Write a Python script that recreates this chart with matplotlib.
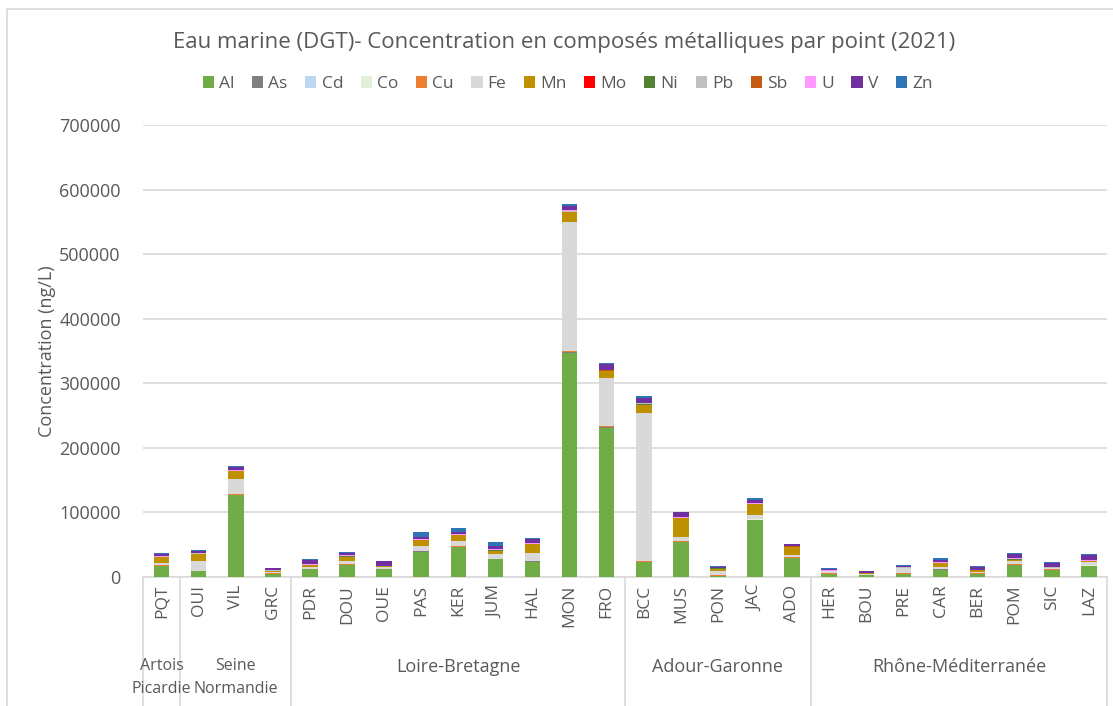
import matplotlib.pyplot as plt
from matplotlib.patches import Rectangle
import numpy as np

plt.rcParams['font.family'] = ['Open Sans', 'DejaVu Sans']

sites = ['PQT', 'OUI', 'VIL', 'GRC', 'PDR', 'DOU', 'OUE', 'PAS', 'KER', 'JUM', 'HAL', 'MON', 'FRO',
         'BCC', 'MUS', 'PON', 'JAC', 'ADO', 'HER', 'BOU', 'PRE', 'CAR', 'BER', 'POM', 'SIC', 'LAZ']
groups = ['Artois\nPicardie', 'Seine\nNormandie', 'Loire-Bretagne', 'Adour-Garonne', 'Rhône-Méditerranée']
group_sizes = [1, 3, 9, 5, 8]

metals = ['Al', 'As', 'Cd', 'Co', 'Cu', 'Fe', 'Mn', 'Mo', 'Ni', 'Pb', 'Sb', 'U', 'V', 'Zn']

Al = [16000, 8300, 126000, 4000, 11000, 17500, 11000, 38700, 45500, 26800, 23200, 347000, 230700,
      22100, 53100, 1000, 87800, 28400, 4100, 2000, 4100, 10800, 4100, 17500, 9800, 16500]
As = [500, 300, 500, 200, 300, 1000, 300, 500, 500, 500, 1000, 1000, 800,
      800, 500, 300, 500, 500, 300, 200, 300, 300, 300, 500, 300, 500]
Cd = [30, 40, 50, 20, 30, 30, 20, 40, 40, 30, 30, 60, 50,
      50, 40, 30, 40, 30, 20, 20, 30, 30, 20, 40, 30, 40]
Co = [60, 80, 120, 30, 50, 60, 40, 80, 90, 70, 80, 300, 200,
      250, 90, 50, 100, 60, 40, 30, 60, 50, 40, 70, 50, 70]
Cu = [800, 500, 1500, 800, 1000, 800, 500, 800, 1000, 500, 500, 1500, 1000,
      1500, 1000, 1500, 1000, 1000, 500, 500, 1000, 500, 800, 1500, 1000, 1500]
Fe = [3000, 15000, 23500, 2000, 3000, 5000, 2500, 7700, 7700, 7200, 11900, 200000, 75800,
      228200, 6700, 5500, 6700, 4100, 3100, 1500, 7200, 2600, 1500, 4800, 1800, 4000]
Mn = [10000, 11000, 11500, 2000, 2000, 6500, 1500, 8300, 9300, 5200, 13400, 15000, 9800,
      12400, 28900, 4000, 16000, 11900, 300, 1000, 1000, 6200, 3100, 1500, 500, 1000]
Mo = [10, 10, 10, 10, 10, 10, 10, 10, 10, 10, 10, 10, 10,
      10, 10, 10, 10, 10, 10, 10, 10, 10, 10, 10, 10, 10]
Ni = [300, 300, 500, 200, 300, 300, 200, 800, 500, 500, 300, 800, 600,
      1500, 500, 200, 500, 300, 200, 200, 200, 300, 200, 500, 300, 500]
Pb = [200, 200, 300, 100, 200, 200, 100, 300, 300, 300, 300, 500, 400,
      1500, 300, 200, 300, 200, 200, 100, 300, 200, 200, 800, 300, 500]
Sb = [80, 60, 100, 50, 60, 60, 50, 80, 80, 70, 70, 150, 120,
      120, 80, 60, 80, 70, 50, 50, 60, 60, 50, 80, 60, 80]
U = [1000, 800, 1000, 800, 1500, 1500, 800, 1500, 1000, 1000, 1000, 1500, 1000,
     800, 1000, 300, 1500, 800, 1000, 300, 800, 1000, 500, 1000, 1000, 1500]
V = [3000, 2500, 4500, 2500, 5500, 3500, 6500, 2500, 3600, 5200, 6700, 7200, 8800,
     7200, 7200, 2000, 4100, 2500, 2000, 2000, 2000, 4100, 3600, 6700, 6200, 6700]
Zn = [2000, 1500, 2500, 800, 1500, 1000, 300, 7200, 5700, 5700, 800, 2600, 2000,
      3100, 1000, 1500, 2600, 1000, 1000, 1000, 1000, 2000, 1500, 1500, 1000, 2000]

series = [Al, As, Cd, Co, Cu, Fe, Mn, Mo, Ni, Pb, Sb, U, V, Zn]
colors = ['#70AD47', '#7F7F7F', '#BDD7EE', '#E2F0D9', '#ED7D31', '#D9D9D9', '#BF9000',
          '#FF0000', '#548235', '#BFBFBF', '#C55A11', '#FF99FF', '#7030A0', '#2E75B6']

txt = '#595959'
fig = plt.figure(figsize=(11.13, 7.06), dpi=100)
ax = fig.add_axes([0.1285, 0.1834, 0.8665, 0.6395])

x = np.arange(len(sites))
bottom = np.zeros(len(sites))
for name, vals, c in zip(metals, series, colors):
    ax.bar(x, vals, 0.42, bottom=bottom, color=c, label=name, zorder=3)
    bottom += np.array(vals)

ax.set_xlim(-0.5, len(sites) - 0.5)
ax.set_ylim(0, 700000)
ax.set_yticks(np.arange(0, 700001, 100000))
ax.yaxis.grid(True, color='#D9D9D9', lw=1.2, zorder=0)
ax.tick_params(axis='y', length=0, pad=16, labelsize=13, labelcolor=txt)
ax.tick_params(axis='x', length=0, pad=6, labelsize=12.5, labelcolor=txt)
ax.set_xticks(x)
ax.set_xticklabels(sites, rotation=90)
for s in ['top', 'right', 'left']:
    ax.spines[s].set_visible(False)
ax.spines['bottom'].set_color('#D9D9D9')
ax.spines['bottom'].set_linewidth(1.2)
ax.set_ylabel('Concentration (ng/L)', fontsize=13, color=txt, labelpad=2)

# group separators and labels (first two are narrow, keep them smaller)
edges = np.concatenate([[0], np.cumsum(group_sizes)]) - 0.5
for e in edges:
    ax.plot([e, e], [0, -0.3], transform=ax.get_xaxis_transform(), color='#D9D9D9',
            lw=1.2, clip_on=False)
for i, (g, a, b) in enumerate(zip(groups, edges[:-1], edges[1:])):
    ax.text((a + b) / 2, -0.18, g, transform=ax.get_xaxis_transform(), ha='center',
            va='top', fontsize=11.5 if i < 2 else 13, color=txt, linespacing=1.6)

fig.text(0.507, 0.94, 'Eau marine (DGT)- Concentration en composés métalliques par point (2021)',
         ha='center', va='center', fontsize=16, color=txt)
leg = fig.legend(loc='center', bbox_to_anchor=(0.51, 0.881), ncol=14, frameon=False,
                 fontsize=12.5, handlelength=0.65, handleheight=0.65, handletextpad=0.3,
                 columnspacing=1.0)
for t in leg.get_texts():
    t.set_color(txt)

fig.patches.append(Rectangle((7 / 1113, -0.1), 1.2, 1 - 9 / 706 + 0.1, transform=fig.transFigure,
                             fill=False, edgecolor='#D9D9D9', lw=1.2))

fig.savefig('out.png', dpi=100)
